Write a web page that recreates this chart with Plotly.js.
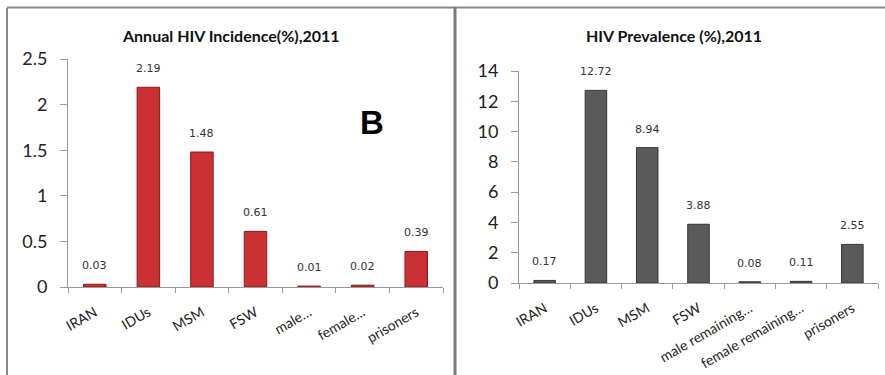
<!DOCTYPE html>
<html>
<head>
<meta charset="utf-8">
<script src="https://cdn.plot.ly/plotly-3.0.1.min.js"></script>
<style>html,body{margin:0;padding:0;background:#fff;}#chart{width:885px;height:375px;}</style>
</head>
<body>
<div id="chart"></div>
<script>
const incidenceCategories = ["IRAN", "IDUs", "MSM", "FSW", "male…", "female…", "prisoners"];
const incidenceValues = [0.03, 2.19, 1.48, 0.61, 0.01, 0.02, 0.39];
const incidenceLabels = ["0.03", "2.19", "1.48", "0.61", "0.01", "0.02", "0.39"];

const prevalenceCategories = ["IRAN", "IDUs", "MSM", "FSW", "male remaining…", "female remaining…", "prisoners"];
const prevalenceValues = [0.17, 12.72, 8.94, 3.88, 0.08, 0.11, 2.55];
const prevalenceLabels = ["0.17", "12.72", "8.94", "3.88", "0.08", "0.11", "2.55"];

const incidenceTicks = [0, 0.5, 1, 1.5, 2, 2.5];
const prevalenceTicks = [0, 2, 4, 6, 8, 10, 12, 14];

const W = 885, H = 375;
const px = x => x / W;
const py = y => (H - y) / H;

const labelFont = {family: "DejaVu Sans", size: 11, color: "#333"};

const traces = [
  {
    type: "bar", x: incidenceCategories, y: incidenceValues,
    hoverinfo: "none",
    marker: {color: "#c93134", line: {color: "#8a1a1c", width: 1}},
    xaxis: "x", yaxis: "y"
  },
  {
    type: "bar", x: prevalenceCategories, y: prevalenceValues,
    hoverinfo: "none",
    marker: {color: "#5a5a5a", line: {color: "#363636", width: 1}},
    xaxis: "x2", yaxis: "y2"
  }
];

const xCommon = {
  type: "category", showgrid: false, zeroline: false,
  showline: true, linecolor: "#9a9a9a", linewidth: 1,
  ticks: "outside", tickson: "boundaries", ticklen: 5, tickcolor: "#9a9a9a",
  ticklabelstandoff: 11,
  tickangle: -30, tickfont: {family: "Lato", size: 14, color: "#222"}
};
const yCommon = {
  showgrid: false, zeroline: false, showline: true, linecolor: "#9a9a9a", linewidth: 1,
  ticks: "outside", ticklen: 7, tickcolor: "#9a9a9a",
  ticklabelstandoff: 9,
  tickfont: {family: "Lato", size: 18, color: "#222"}
};

const annotations = [
  {text: "<b>Annual HIV Incidence(%),2011</b>", xref: "paper", yref: "paper", x: px(231), y: py(36), xanchor: "center", yanchor: "middle", showarrow: false, font: {family: "Lato", size: 16, color: "#111"}},
  {text: "<b>HIV Prevalence (%),2011</b>", xref: "paper", yref: "paper", x: px(674), y: py(36), xanchor: "center", yanchor: "middle", showarrow: false, font: {family: "Lato", size: 16, color: "#111"}},
  {text: "<b>B</b>", xref: "paper", yref: "paper", x: px(372), y: py(122), xanchor: "center", yanchor: "middle", showarrow: false, font: {family: "Liberation Sans", size: 33, color: "#000"}}
];
incidenceCategories.forEach((c, i) => annotations.push({
  text: incidenceLabels[i], x: c, y: incidenceValues[i], xref: "x", yref: "y",
  xanchor: "center", yanchor: "bottom", yshift: 10, showarrow: false, font: labelFont
}));
prevalenceCategories.forEach((c, i) => annotations.push({
  text: prevalenceLabels[i], x: c, y: prevalenceValues[i], xref: "x2", yref: "y2",
  xanchor: "center", yanchor: "bottom", yshift: 10, showarrow: false, font: labelFont
}));

const layout = {
  width: W, height: H,
  margin: {l: 0, r: 0, t: 0, b: 0},
  paper_bgcolor: "#fff", plot_bgcolor: "rgba(0,0,0,0)",
  showlegend: false,
  bargap: 0.58,
  xaxis: Object.assign({}, xCommon, {domain: [px(68), px(443)], anchor: "y"}),
  yaxis: Object.assign({}, yCommon, {domain: [py(287), py(59)], range: [0, 2.5], tickvals: incidenceTicks, ticktext: incidenceTicks.map(String), anchor: "x"}),
  xaxis2: Object.assign({}, xCommon, {domain: [px(519), px(878)], anchor: "y2"}),
  yaxis2: Object.assign({}, yCommon, {domain: [py(283), py(71)], range: [0, 14], tickvals: prevalenceTicks, ticktext: prevalenceTicks.map(String), anchor: "x2"}),
  annotations: annotations,
  shapes: [
    {type: "line", xref: "paper", yref: "paper", x0: px(7), x1: px(7), y0: py(8), y1: 0, line: {color: "#8a8a8a", width: 2}},
    {type: "line", xref: "paper", yref: "paper", x0: px(7), x1: 1, y0: py(7.5), y1: py(7.5), line: {color: "#8a8a8a", width: 2}},
    {type: "line", xref: "paper", yref: "paper", x0: px(455), x1: px(455), y0: py(7), y1: 0, line: {color: "#7a7a7a", width: 3}}
  ]
};

Plotly.newPlot("chart", traces, layout, {staticPlot: true, displayModeBar: false});
</script>
</body>
</html>
